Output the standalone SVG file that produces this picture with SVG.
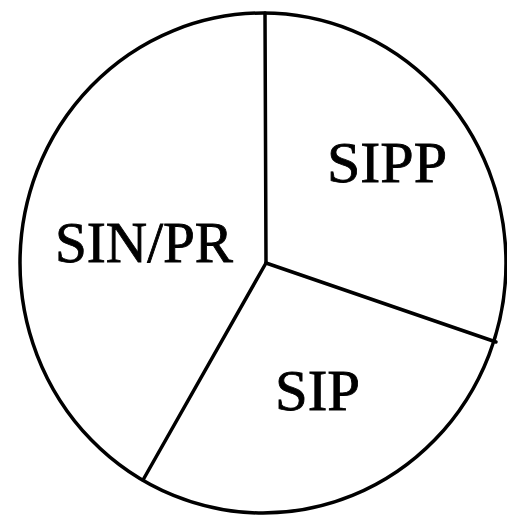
<svg xmlns="http://www.w3.org/2000/svg" width="507" height="519" viewBox="0 0 507 519">
<style>
.edge{fill:none;stroke:#000;stroke-width:3.5;stroke-linecap:round}
.lbl{font-family:"Liberation Serif","Times New Roman",serif;font-size:56px;fill:#000;stroke:#000;stroke-width:0.8}
</style>
<rect width="507" height="519" fill="#fff"/>
<g id="pie">
<ellipse class="edge" cx="263" cy="263" rx="243" ry="250"/>
</g>
<g id="dividers">
<line class="edge" x1="266" y1="263" x2="265" y2="13"/>
<line class="edge" x1="266" y1="263" x2="496" y2="342"/>
<line class="edge" x1="266" y1="263" x2="143" y2="480"/>
</g>
<g id="slice-sin-pr"><text class="lbl" x="55" y="262" textLength="178" lengthAdjust="spacingAndGlyphs">SIN/PR</text></g>
<g id="slice-sipp"><text class="lbl" x="327" y="182" textLength="120" lengthAdjust="spacingAndGlyphs">SIPP</text></g>
<g id="slice-sip"><text class="lbl" x="275" y="410" textLength="85" lengthAdjust="spacingAndGlyphs">SIP</text></g>
</svg>
